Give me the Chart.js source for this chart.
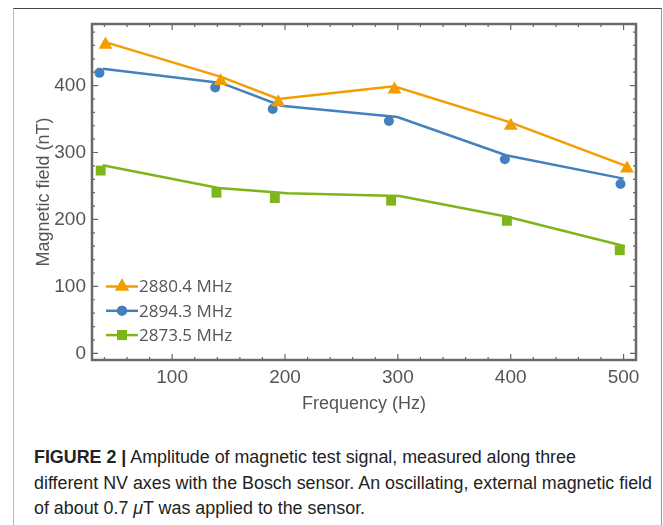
<!DOCTYPE html>
<html>
<head>
<meta charset="utf-8">
<script src="https://cdn.jsdelivr.net/npm/chart.js@4.4.1/dist/chart.umd.min.js"></script>
<style>
  html, body { margin: 0; padding: 0; background: #fff; }
  #page { position: relative; width: 663px; height: 525px; overflow: hidden; }
  #frame { position: absolute; left: 13px; top: 8px; width: 647px; height: 530px;
           border-top: 1px solid #444; border-left: 1.5px solid #bbb; border-right: 1px solid #999; }
  #chart { position: absolute; left: 0; top: 0; }
  #caption { position: absolute; left: 34px; top: 445px; width: 640px;
             font-family: "Liberation Sans", Arial, sans-serif; font-size: 17.5px; line-height: 25.5px;
             color: #222; }
  #caption span { display: block; white-space: nowrap; transform-origin: 0 50%; width: max-content; }
</style>
</head>
<body>
<div id="page">
  <div id="frame"></div>
  <canvas id="chart" width="663" height="420"></canvas>
  <div id="caption">
    <span><b>FIGURE 2 |</b> Amplitude of magnetic test signal, measured along three</span>
    <span>different NV axes with the Bosch sensor. An oscillating, external magnetic field</span>
    <span>of about 0.7 <i>μ</i>T was applied to the sensor.</span>
  </div>
</div>
<script>
// series labels
const seriesNames = ['2880.4 MHz', '2894.3 MHz', '2873.5 MHz'];
const seriesColors = ['#F49D00', '#4380BF', '#7DB51A'];
const seriesMarkers = ['triangle', 'circle', 'rect'];

// lines (Hz, nT)
const orangeLineHz = [38.5, 143.4, 194.3, 296.6, 399.6, 501.9];
const orangeLineNT = [466, 413, 380, 399, 345, 280];
const blueLineHz = [38.5, 143.4, 196.6, 299.6, 395.8, 500];
const blueLineNT = [425, 404, 370, 353, 296, 261];
const greenLineHz = [38.5, 141.2, 202.2, 301.5, 397, 501.2];
const greenLineNT = [281, 247, 239, 235, 204, 160];

// measured points (Hz, nT)
const orangeDotHz = [41, 143, 194, 297, 400, 503];
const orangeDotNT = [461, 407, 375, 394, 340, 276];
const blueDotHz = [35.6, 138.2, 189.1, 292.1, 394.8, 497.3];
const blueDotNT = [419, 397, 365, 347, 290, 253];
const greenDotHz = [36.7, 139.3, 191, 294, 396.6, 496.6];
const greenDotNT = [273, 240, 232, 228, 198, 154];

// axis ticks
const xMajor = [100, 200, 300, 400, 500];
const yMajor = [0, 100, 200, 300, 400];

// squeeze caption lines to the condensed look of the original
(function () {
    const lines = document.querySelectorAll('#caption span');
    const k = 618 / lines[1].getBoundingClientRect().width;
    lines.forEach(l => { l.style.transform = 'scaleX(' + k + ')'; });
})();

function pts(xs, ys) {
    return xs.map((x, i) => ({ x: x, y: ys[i] }));
}

function lineSet(xs, ys, color) {
    return {
        data: pts(xs, ys), borderColor: color, borderWidth: 2.5,
        pointRadius: 0, showLine: true, clip: false, order: 2
    };
}

function dotSet(xs, ys, color, style, r) {
    return {
        data: pts(xs, ys), backgroundColor: color, borderColor: color, borderWidth: 0,
        pointStyle: style, pointRadius: r, showLine: false, clip: false, order: 1
    };
}

const markerRadius = [8, 5, 7];

// frame with inward ticks, Mathematica style
const framePlugin = {
    id: 'frame',
    beforeDatasetsDraw(chart) {
        const { ctx, chartArea: a, scales: { x, y } } = chart;
        ctx.save();
        ctx.strokeStyle = '#666';
        ctx.lineWidth = 1.2;
        ctx.beginPath();
        for (let v = 40; v <= 500; v += 20) {
            const px = x.getPixelForValue(v);
            const len = v % 100 === 0 ? 6 : 3;
            ctx.moveTo(px, a.bottom); ctx.lineTo(px, a.bottom - len);
            ctx.moveTo(px, a.top); ctx.lineTo(px, a.top + len);
        }
        for (let v = 0; v <= 480; v += 20) {
            const py = y.getPixelForValue(v);
            const len = v % 100 === 0 ? 6 : 3;
            ctx.moveTo(a.left, py); ctx.lineTo(a.left + len, py);
            ctx.moveTo(a.right, py); ctx.lineTo(a.right - len, py);
        }
        ctx.stroke();
        ctx.lineWidth = 2.5;
        ctx.strokeStyle = '#6a6a6a';
        ctx.strokeRect(a.left, a.top, a.right - a.left, a.bottom - a.top);
        ctx.restore();
    }
};

const legendPlugin = {
    id: 'innerLegend',
    afterDraw(chart) {
        const ctx = chart.ctx;
        ctx.save();
        ctx.font = '17px "Open Sans"';
        ctx.textBaseline = 'middle';
        ctx.fillStyle = '#555';
        for (let i = 0; i < seriesNames.length; i++) {
            const yy = 286.5 + i * 24.3;
            ctx.strokeStyle = seriesColors[i];
            ctx.lineWidth = 2.5;
            ctx.beginPath();
            ctx.moveTo(106, yy); ctx.lineTo(138, yy);
            ctx.stroke();
            ctx.fillStyle = seriesColors[i];
            Chart.helpers.drawPoint(ctx, { pointStyle: seriesMarkers[i], radius: markerRadius[i], borderWidth: 0, rotation: 0 }, 122, yy);
            ctx.fill();
            ctx.fillStyle = '#555';
            ctx.fillText(seriesNames[i], 139, yy + 1);
        }
        ctx.restore();
    }
};

const tickFont = { family: '"Liberation Sans", Arial, sans-serif', size: 19 };
const titleFont = { family: '"Liberation Sans", Arial, sans-serif', size: 18 };

new Chart(document.getElementById('chart'), {
    type: 'scatter',
    data: {
        datasets: [
            lineSet(orangeLineHz, orangeLineNT, seriesColors[0]),
            lineSet(blueLineHz, blueLineNT, seriesColors[1]),
            lineSet(greenLineHz, greenLineNT, seriesColors[2]),
            dotSet(orangeDotHz, orangeDotNT, seriesColors[0], 'triangle', markerRadius[0]),
            dotSet(blueDotHz, blueDotNT, seriesColors[1], 'circle', markerRadius[1]),
            dotSet(greenDotHz, greenDotNT, seriesColors[2], 'rect', markerRadius[2])
        ]
    },
    options: {
        responsive: false,
        animation: false,
        devicePixelRatio: 1,
        layout: { padding: { top: 24, right: 27, left: 0, bottom: 0 } },
        plugins: { legend: { display: false }, tooltip: { enabled: false } },
        scales: {
            x: {
                type: 'linear', min: 29, max: 511,
                grid: { display: false, drawTicks: false },
                border: { display: false },
                afterBuildTicks: (s) => { s.ticks = xMajor.map(v => ({ value: v })); },
                afterFit: (s) => { s.height = 60; },
                ticks: { color: '#555', font: tickFont, padding: 6, maxRotation: 0 },
                title: { display: true, text: 'Frequency (Hz)', color: '#555', font: titleFont, padding: { top: 0, bottom: 5 } }
            },
            y: {
                type: 'linear', min: -10, max: 492,
                grid: { display: false, drawTicks: false },
                border: { display: false },
                afterBuildTicks: (s) => { s.ticks = yMajor.map(v => ({ value: v })); },
                afterFit: (s) => { s.width = 92; },
                ticks: { color: '#555', font: tickFont, padding: 6 },
                title: { display: true, text: 'Magnetic field (nT)', color: '#555', font: titleFont, padding: { top: 33, bottom: 0 } }
            }
        }
    },
    plugins: [framePlugin, legendPlugin]
});
</script>
</body>
</html>
